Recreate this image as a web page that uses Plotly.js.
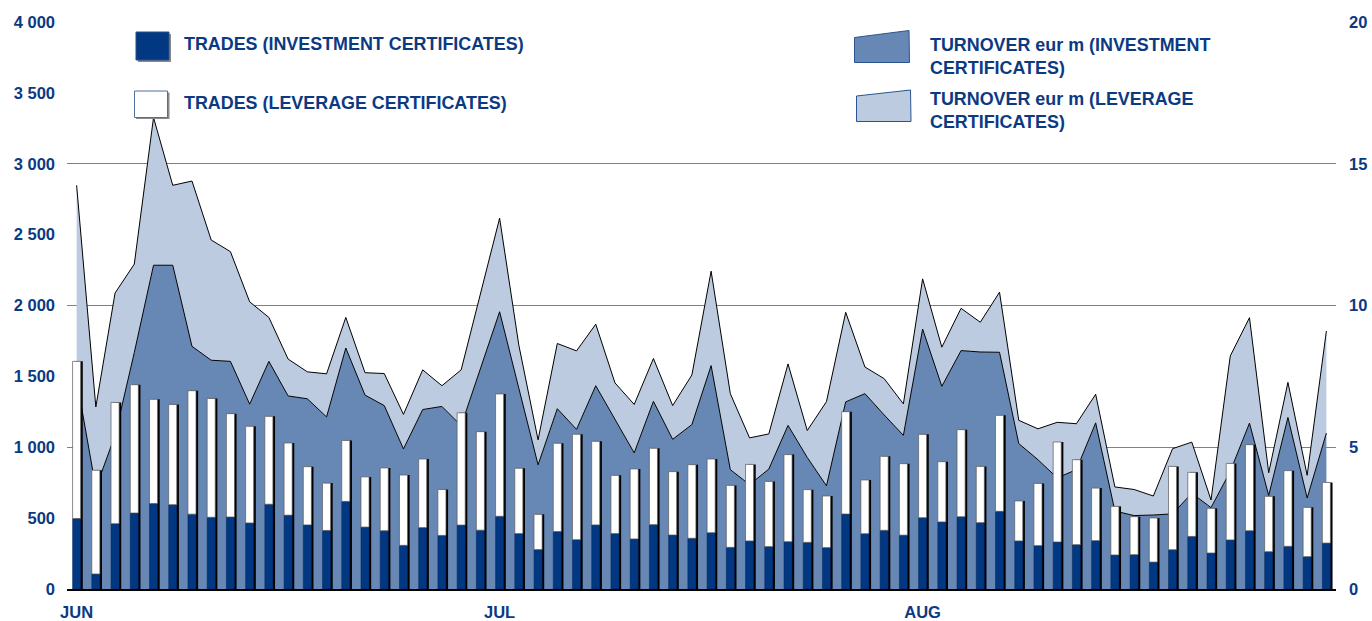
<!DOCTYPE html>
<html>
<head>
<meta charset="utf-8">
<script src="https://cdn.plot.ly/plotly-3.0.1.min.js"></script>
<style>
  html, body { margin: 0; padding: 0; background: #ffffff; }
  #chart { width: 1372px; height: 621px; }
</style>
</head>
<body>
<div id="chart"></div>
<script>
// ---- data ----
const monthLabels = ['JUN', 'JUL', 'AUG'];
const monthStartDay = [0, 22, 44];

// number of trades per trading day
const invTrades = [497,106,461,536,603,595,528,506,508,466,
                   598,521,452,413,618,437,411,308,433,378,
                   451,415,513,391,278,405,348,452,391,353,
                   454,381,358,397,294,339,299,334,329,292,
                   529,390,414,380,503,473,510,468,548,339,
                   306,332,313,341,240,242,190,277,371,254,
                   346,411,263,301,228,324];
const levTrades = [1109,732,855,905,735,707,871,838,729,682,
                   620,509,411,334,430,354,443,496,484,324,
                   792,695,863,461,249,623,744,590,411,494,
                   539,447,519,520,437,540,460,614,372,364,
                   722,379,522,504,588,425,614,397,677,282,
                   439,705,599,371,343,268,311,588,452,315,
                   540,607,391,534,348,428];

// turnover, eur m per trading day
const invTurnover = [7.4,3.56,5.42,8.34,11.42,11.42,8.56,8.07,8.03,6.52,
                     8.03,6.81,6.71,6.07,8.5,6.84,6.47,4.94,6.33,6.44,
                     5.76,7.78,9.78,7.08,4.38,6.36,5.63,7.17,5.98,4.8,
                     6.62,5.28,5.8,7.88,4.21,3.68,4.23,5.77,4.64,3.64,
                     6.6,6.89,6.14,5.42,9.17,7.15,8.41,8.36,8.35,5.13,
                     4.56,3.92,4.21,5.86,2.75,2.59,2.61,2.65,3.38,2.87,
                     4.15,5.85,3.3,6.05,3.21,5.5];
const levTurnover = [6.84,2.86,5.02,3.12,5.21,2.82,5.83,4.24,3.87,3.61,
                     1.55,1.3,0.95,1.52,1.08,0.79,1.13,1.22,1.4,0.73,
                     1.97,2.6,3.3,1.52,0.88,2.3,2.77,2.17,1.29,1.71,
                     1.51,1.19,1.75,3.33,2.68,1.65,1.24,2.17,0.95,2.97,
                     3.16,0.94,1.28,1.11,1.77,1.38,1.49,1.05,2.12,0.82,
                     1.09,1.96,1.62,1.01,0.85,0.92,0.67,2.3,1.8,0.27,
                     4.07,3.72,0.8,1.24,0.8,3.6];

const seriesNames = [
  'TRADES (INVESTMENT CERTIFICATES)',
  'TRADES (LEVERAGE CERTIFICATES)',
  'TURNOVER eur m (INVESTMENT<br>CERTIFICATES)',
  'TURNOVER eur m (LEVERAGE<br>CERTIFICATES)'
];

// ---- styling ----
const NAVY_TEXT = '#0b3a82';
const NAVY_BAR = '#023882';
const MID_BLUE = '#6788b4';
const LIGHT_BLUE = '#bccbdf';
const FONT = 'Liberation Sans, Arial, Helvetica, sans-serif';

const days = invTrades.map((_, i) => i);
const totalTrades = invTrades.map((v, i) => v + levTrades[i]);

const BAR_W = 0.42;

const traces = [
  // turnover areas (base subplot, right axis)
  {
    type: 'scatter', mode: 'lines', x: days, y: invTurnover, name: seriesNames[2],
    stackgroup: 'turnover', fillcolor: MID_BLUE,
    line: { color: '#000000', width: 1 }, xaxis: 'x', yaxis: 'y', hoverinfo: 'y'
  },
  {
    type: 'scatter', mode: 'lines', x: days, y: levTurnover, name: seriesNames[3],
    stackgroup: 'turnover', fillcolor: LIGHT_BLUE,
    line: { color: '#000000', width: 1 }, xaxis: 'x', yaxis: 'y', hoverinfo: 'y'
  },
  // bar shadow
  {
    type: 'bar', x: days, y: totalTrades, base: 0, width: BAR_W, offset: -BAR_W / 2 + 0.11,
    marker: { color: '#000000', line: { width: 0 } }, showlegend: false, hoverinfo: 'skip',
    xaxis: 'x', yaxis: 'y2'
  },
  // trades bars (overlay subplot, left axis)
  {
    type: 'bar', x: days, y: invTrades, base: 0, width: BAR_W, offset: -BAR_W / 2,
    name: seriesNames[0],
    marker: { color: NAVY_BAR, line: { color: '#01245a', width: 0.5 } },
    xaxis: 'x', yaxis: 'y2'
  },
  {
    type: 'bar', x: days, y: levTrades, base: invTrades, width: BAR_W, offset: -BAR_W / 2,
    name: seriesNames[1],
    marker: { color: '#ffffff', line: { color: '#5a5a5a', width: 0.7 } },
    xaxis: 'x', yaxis: 'y2'
  }
];

// ---- geometry helpers for the hand-drawn legend ----
const M = { l: 67, r: 36, t: 22, b: 32 };
const W = 1372, H = 621;
const PW = W - M.l - M.r, PH = H - M.t - M.b;
const px = x => (x - M.l) / PW;
const py = y => (H - M.b - y) / PH;

const shapes = [
  // navy swatch with shadow
  { type: 'rect', xref: 'paper', yref: 'paper', x0: px(138), x1: px(171), y0: py(62), y1: py(34),
    fillcolor: '#8a8a8a', line: { width: 0 } },
  { type: 'rect', xref: 'paper', yref: 'paper', x0: px(136), x1: px(169), y0: py(60), y1: py(32),
    fillcolor: NAVY_BAR, line: { color: '#264f8a', width: 1 } },
  // white swatch with shadow
  { type: 'rect', xref: 'paper', yref: 'paper', x0: px(136), x1: px(169.5), y0: py(119), y1: py(92.5),
    fillcolor: '#8a8a8a', line: { width: 0 } },
  { type: 'rect', xref: 'paper', yref: 'paper', x0: px(134.5), x1: px(167.5), y0: py(117.5), y1: py(91),
    fillcolor: '#ffffff', line: { color: '#4f6f9f', width: 1 } },
  // turnover swatches (trapezoids)
  { type: 'path', xref: 'paper', yref: 'paper',
    path: `M ${px(854.5)} ${py(37.5)} L ${px(909)} ${py(30.5)} L ${px(909.5)} ${py(62.5)} L ${px(854.5)} ${py(62.5)} Z`,
    fillcolor: MID_BLUE, line: { color: '#2a5590', width: 1 } },
  { type: 'path', xref: 'paper', yref: 'paper',
    path: `M ${px(856.5)} ${py(96)} L ${px(910.5)} ${py(90)} L ${px(911)} ${py(121.5)} L ${px(856.5)} ${py(121.5)} Z`,
    fillcolor: LIGHT_BLUE, line: { color: '#2a5590', width: 1 } }
];

const legendFont = { family: FONT, size: 17.9, color: NAVY_TEXT, weight: 700 };
const annotations = [
  { text: seriesNames[0], x: px(182), y: py(44.5) },
  { text: seriesNames[1], x: px(182), y: py(103) },
  { text: seriesNames[2], x: px(928), y: py(56.5) },
  { text: seriesNames[3], x: px(928), y: py(110.5) }
].map(a => Object.assign(a, {
  xref: 'paper', yref: 'paper', xanchor: 'left', yanchor: 'middle', align: 'left',
  showarrow: false, font: legendFont
}));

const tickFont = { family: FONT, size: 16.5, color: NAVY_TEXT, weight: 700 };

const layout = {
  width: W, height: H,
  margin: M,
  paper_bgcolor: '#ffffff', plot_bgcolor: '#ffffff',
  showlegend: false,
  barmode: 'overlay',
  separators: '. ',
  xaxis: {
    range: [-0.5, 65.5], tickmode: 'array', tickvals: monthStartDay, ticktext: monthLabels,
    showgrid: false, zeroline: false, showline: true, linecolor: '#000000', linewidth: 2,
    ticks: '', ticklabelstandoff: 7, tickfont: tickFont, fixedrange: true
  },
  yaxis: {
    side: 'right', range: [0, 20], dtick: 5, tick0: 0,
    showgrid: true, gridcolor: '#808080', gridwidth: 1, zeroline: false,
    showline: false, ticks: '', ticklabelstandoff: 12, tickfont: tickFont
  },
  yaxis2: {
    overlaying: 'y', side: 'left', range: [0, 4000], dtick: 500, tick0: 0,
    tickformat: ',d', showgrid: false, zeroline: false, showline: false,
    ticks: '', ticklabelstandoff: 11, tickfont: tickFont
  },
  shapes: shapes,
  annotations: annotations
};

Plotly.newPlot('chart', traces, layout, { displayModeBar: false, staticPlot: true });
</script>
</body>
</html>
